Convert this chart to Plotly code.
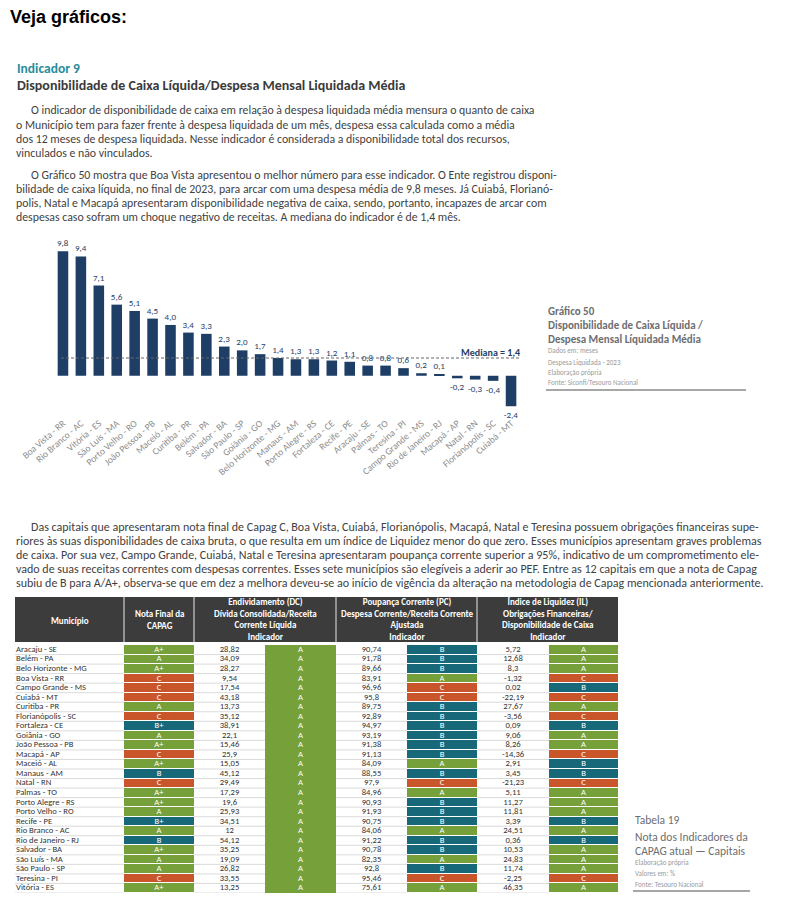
import plotly.graph_objects as go

W, H = 792, 915

# ---------------- data: Gráfico 50 ----------------
cities = ["Boa Vista - RR", "Rio Branco - AC", "Vitória - ES", "São Luís - MA", "Porto Velho - RO",
          "João Pessoa - PB", "Maceió - AL", "Curitiba - PR", "Belém - PA", "Salvador - BA",
          "São Paulo - SP", "Goiânia - GO", "Belo Horizonte - MG", "Manaus - AM", "Porto Alegre - RS",
          "Fortaleza - CE", "Recife - PE", "Aracaju - SE", "Palmas - TO", "Teresina - PI",
          "Campo Grande - MS", "Rio de Janeiro - RJ", "Macapá - AP", "Natal - RN",
          "Florianópolis - SC", "Cuiabá - MT"]
disp_caixa = [9.8, 9.4, 7.1, 5.6, 5.1, 4.5, 4.0, 3.4, 3.3, 2.3, 2.0, 1.7, 1.4, 1.3, 1.3,
              1.2, 1.1, 0.8, 0.8, 0.6, 0.2, 0.1, -0.2, -0.3, -0.4, -2.4]
mediana = 1.4

# ---------------- data: Tabela 19 ----------------
municipios = ["Aracaju - SE", "Belém - PA", "Belo Horizonte - MG", "Boa Vista - RR", "Campo Grande - MS",
              "Cuiabá - MT", "Curitiba - PR", "Florianópolis - SC", "Fortaleza - CE", "Goiânia - GO",
              "João Pessoa - PB", "Macapá - AP", "Maceió - AL", "Manaus - AM", "Natal - RN",
              "Palmas - TO", "Porto Alegre - RS", "Porto Velho - RO", "Recife - PE", "Rio Branco - AC",
              "Rio de Janeiro - RJ", "Salvador - BA", "São Luís - MA", "São Paulo - SP", "Teresina - PI",
              "Vitória - ES"]
nota_final = ["A+", "A", "A+", "C", "C", "C", "A", "C", "B+", "A", "A+", "C", "A+", "B", "C",
              "A+", "A+", "A", "B+", "A", "B", "A+", "A", "A", "C", "A+"]
dc_valor = [28.82, 34.09, 28.27, 9.54, 17.54, 43.18, 13.73, 35.12, 38.91, 22.1, 15.46, 25.9, 15.05,
            45.12, 29.49, 17.29, 19.6, 25.93, 34.51, 12, 54.12, 35.25, 19.09, 26.82, 33.55, 13.25]
dc_nota = ["A"] * 26
pc_valor = [90.74, 91.78, 89.66, 83.91, 96.96, 95.8, 89.75, 92.89, 94.97, 93.19, 91.38, 91.13, 84.09,
            88.55, 97.9, 84.96, 90.93, 91.93, 90.75, 84.06, 91.22, 90.78, 82.35, 92.8, 95.46, 75.61]
pc_nota = ["B", "B", "B", "A", "C", "C", "B", "B", "B", "B", "B", "B", "A", "B", "C",
           "A", "B", "B", "B", "A", "B", "B", "A", "B", "C", "A"]
il_valor = [5.72, 12.68, 8.3, -1.32, 0.02, -22.19, 27.67, -3.56, 0.09, 9.06, 8.26, -14.36, 2.91,
            3.45, -21.23, 5.11, 11.27, 11.81, 3.39, 24.51, 0.36, 10.53, 24.83, 11.74, -2.25, 46.35]
il_nota = ["A", "A", "A", "C", "B", "C", "A", "C", "B", "A", "A", "C", "B", "B", "C",
           "A", "A", "A", "B", "A", "B", "A", "A", "A", "C", "A"]

# ---------------- styling ----------------
FONT = "Carlito, Lato, sans-serif"
NAVY = "#1f3e66"
GREEN = "#76a03a"
TEAL = "#17697a"
ORANGE = "#c9552a"
TXT = "#3f3f3f"
GRAY = "#6d6e71"
LGRAY = "#9a9a9a"
OFF = 8  # page body margin


def X(p):
    return (p - OFF) / W


def Y(p):
    return 1 - (p - OFF) / H


def br(v):
    return f"{v:g}".replace(".", ",")


def br1(v):
    return f"{v:.1f}".replace(".", ",")


fig = go.Figure()

# ---------------- bar chart ----------------
fig.add_trace(go.Bar(
    x=cities, y=disp_caixa, marker_color=NAVY, marker_line_width=0,
    text=[br1(v) for v in disp_caixa], textposition="outside", constraintext="none",
    textfont=dict(family=FONT, size=9, color=NAVY), cliponaxis=False,
    xaxis="x", yaxis="y", showlegend=False, hoverinfo="skip"))

# ---------------- table ----------------
edges = [15, 124, 194, 265, 336, 407, 477, 549, 618]
centers = [(edges[i] + edges[i + 1]) / 2 for i in range(8)]
rows = list(range(len(municipios)))
code = {"A+": 0, "A": 0, "B+": 1, "B": 1, "C": 2}

z = []
for i in rows:
    z.append([None, code[nota_final[i]], None, None, None, code[pc_nota[i]], None, code[il_nota[i]]])
cs = [[0, GREEN], [0.5, TEAL], [1, ORANGE]]
fig.add_trace(go.Heatmap(x=edges, y=rows, z=z, zmin=0, zmax=2, colorscale=cs, showscale=False,
                         ygap=1, xgap=0, xaxis="x2", yaxis="y2", hoverinfo="skip"))
fig.add_trace(go.Heatmap(x=edges[3:5], y=rows, z=[[code[g]] for g in dc_nota], zmin=0, zmax=2,
                         colorscale=cs, showscale=False, ygap=0, xaxis="x2", yaxis="y2",
                         hoverinfo="skip"))

# row separators in white columns
lx, ly = [], []
for i in rows:
    b = i + 0.5
    for c in (0, 2, 4, 6):
        lx += [edges[c], edges[c + 1], None]
        ly += [b, b, None]
fig.add_trace(go.Scatter(x=lx, y=ly, mode="lines", line=dict(color="#d2d2d2", width=0.8),
                         xaxis="x2", yaxis="y2", showlegend=False, hoverinfo="skip"))

tf = dict(family=FONT, size=8.6, color="#333333")
wf = dict(family=FONT, size=8.6, color="white")
fig.add_trace(go.Scatter(x=[edges[0] + 1] * len(rows), y=rows, text=municipios, mode="text",
                         textposition="middle right", textfont=tf, xaxis="x2", yaxis="y2",
                         showlegend=False, hoverinfo="skip"))
for col, vals, font in [(1, nota_final, wf), (2, [br(v) for v in dc_valor], tf), (3, dc_nota, wf),
                        (4, [br(v) for v in pc_valor], tf), (5, pc_nota, wf),
                        (6, [br(v) for v in il_valor], tf), (7, il_nota, wf)]:
    fig.add_trace(go.Scatter(x=[centers[col]] * len(rows), y=rows, text=vals, mode="text",
                             textposition="middle center", textfont=font, xaxis="x2", yaxis="y2",
                             showlegend=False, hoverinfo="skip"))

# ---------------- annotations ----------------
ann = []


def T(x, y, text, size, color=TXT, bold=False, xanchor="left", family=FONT, xref="paper"):
    if bold:
        text = f"<b>{text}</b>"
    ann.append(dict(x=X(x) if xref == "paper" else x, y=Y(y), xref=xref, yref="paper", text=text,
                    showarrow=False, xanchor=xanchor, yanchor="middle",
                    align="center" if xanchor == "center" else "left",
                    font=dict(family=family, size=size, color=color)))


T(8, 17, "Veja gráficos:", 18, "#000000", True, family="Liberation Sans, Arial, sans-serif")
T(15, 69, "Indicador 9", 13.5, "#2a8c9c", True)
T(15, 85, "Disponibilidade de Caixa Líquida/Despesa Mensal Liquidada Média", 14, "#3a3a3a", True)

PS = 11.8
p1 = ["O indicador de disponibilidade de caixa em relação à despesa liquidada média mensura o quanto de caixa",
      "o Município tem para fazer frente à despesa liquidada de um mês, despesa essa calculada como a média",
      "dos 12 meses de despesa liquidada. Nesse indicador é considerada a disponibilidade total dos recursos,",
      "vinculados e não vinculados."]
for k, (s, y) in enumerate(zip(p1, [110, 125, 139, 153])):
    T(29 if k == 0 else 14, y, s, PS)

p2 = ["O Gráfico 50 mostra que Boa Vista apresentou o melhor número para esse indicador. O Ente registrou disponi-",
      "bilidade de caixa líquida, no final de 2023, para arcar com uma despesa média de 9,8 meses. Já Cuiabá, Florianó-",
      "polis, Natal e Macapá apresentaram disponibilidade negativa de caixa, sendo, portanto, incapazes de arcar com",
      "despesas caso sofram um choque negativo de receitas. A mediana do indicador é de 1,4 mês."]
for k, (s, y) in enumerate(zip(p2, [175, 189, 203, 217])):
    T(29 if k == 0 else 14, y, s, PS)

p3 = ["Das capitais que apresentaram nota final de Capag C, Boa Vista, Cuiabá, Florianópolis, Macapá, Natal e Teresina possuem obrigações financeiras supe-",
      "riores às suas disponibilidades de caixa bruta, o que resulta em um índice de Liquidez menor do que zero. Esses municípios apresentam graves problemas",
      "de caixa. Por sua vez, Campo Grande, Cuiabá, Natal e Teresina apresentaram poupança corrente superior a 95%, indicativo de um comprometimento ele-",
      "vado de suas receitas correntes com despesas correntes. Esses sete municípios são elegíveis a aderir ao PEF. Entre as 12 capitais em que a nota de Capag",
      "subiu de B para A/A+, observa-se que em dez a melhora deveu-se ao início de vigência da alteração na metodologia de Capag mencionada anteriormente."]
for k, (s, y) in enumerate(zip(p3, [527, 541, 555, 569, 583])):
    T(29 if k == 0 else 14, y, s, 12)

# chart side caption
T(546, 311, "Gráfico 50", 11, GRAY, True)
T(546, 325, "Disponibilidade de Caixa Líquida /", 11, GRAY, True)
T(546, 339, "Despesa Mensal Líquidada Média", 11, GRAY, True)
for s, y in zip(["Dados em: meses", "Despesa Liquidada - 2023", "Elaboração própria",
                 "Fonte: Siconfi/Tesouro Nacional"], [351, 362, 372, 382]):
    T(546, y, s, 7, LGRAY)

# table side caption
T(633, 820, "Tabela 19", 11.5, GRAY)
T(633, 837, "Nota dos Indicadores da", 11.5, GRAY)
T(633, 851, "CAPAG atual — Capitais", 11.5, GRAY)
for s, y in zip(["Elaboração própria", "Valores em: %", "Fonte: Tesouro Nacional"], [862, 873, 884]):
    T(633, y, s, 7, LGRAY)

# table header
hf = 9
T(centers[0], 620, "Município", hf, "white", True, "center", xref="x2")
T(centers[1], 619, "Nota Final da<br>CAPAG", hf, "white", True, "center", xref="x2")
T((edges[2] + edges[4]) / 2, 619, "Endividamento (DC)<br>Dívida Consolidada/Receita<br>Corrente Líquida<br>Indicador",
  hf, "white", True, "center", xref="x2")
T((edges[4] + edges[6]) / 2, 619, "Poupança Corrente (PC)<br>Despesa Corrente/Receita Corrente<br>Ajustada<br>Indicador",
  hf, "white", True, "center", xref="x2")
T((edges[6] + edges[8]) / 2, 619, "Índice de Liquidez (IL)<br>Obrigações Financeiras/<br>Disponibilidade de Caixa<br>Indicador",
  hf, "white", True, "center", xref="x2")

# median label
ann.append(dict(x=1.005, xref="x domain", y=mediana, yref="y", yanchor="bottom", xanchor="right",
                text=f"<b>Mediana = {br1(mediana)}</b>", showarrow=False, yshift=-3,
                font=dict(family=FONT, size=10, color=NAVY)))

shapes = [
    dict(type="line", xref="x domain", yref="y", x0=0.015, x1=1.0, y0=mediana, y1=mediana,
         line=dict(color="#666666", width=1.2, dash="3px,2px"), layer="above"),
    dict(type="line", xref="paper", yref="paper", x0=X(546), x1=X(746), y0=Y(390), y1=Y(390),
         line=dict(color="#8a8a8a", width=1.5)),
    dict(type="line", xref="paper", yref="paper", x0=X(633), x1=X(750), y0=Y(891), y1=Y(891),
         line=dict(color="#8a8a8a", width=1.5)),
    dict(type="rect", xref="x2", yref="paper", x0=edges[0], x1=edges[-1], y0=Y(642), y1=Y(597),
         fillcolor="#3c3c3c", line_width=0, layer="below"),
]
for e in (edges[1], edges[2], edges[4], edges[6]):
    shapes.append(dict(type="line", xref="x2", yref="paper", x0=e, x1=e, y0=Y(642), y1=Y(597),
                       line=dict(color="#e8e8e8", width=1)))

noax = dict(showgrid=False, zeroline=False, showticklabels=False, ticks="", showline=False,
            automargin=False)
fig.update_layout(
    width=W, height=H, margin=dict(l=0, r=0, t=0, b=0, autoexpand=False),
    paper_bgcolor="white", plot_bgcolor="rgba(0,0,0,0)",
    bargap=0.41, showlegend=False,
    xaxis=dict(domain=[X(54), X(520)], tickangle=-41, showgrid=False, zeroline=False,
               ticks="", showline=False, tickfont=dict(family=FONT, size=9.5, color="#8c8c8c"),
               anchor="y", automargin=False),
    yaxis=dict(domain=[Y(415), Y(240)], range=[-3.09, 10.69], anchor="x", **noax),
    xaxis2=dict(domain=[X(15), X(618)], range=[15, 618], anchor="y2", **noax),
    yaxis2=dict(domain=[Y(893), Y(645)], range=[25.5, -0.5], anchor="x2", **noax),
    annotations=ann, shapes=shapes,
)

fig.write_html("out.html")
